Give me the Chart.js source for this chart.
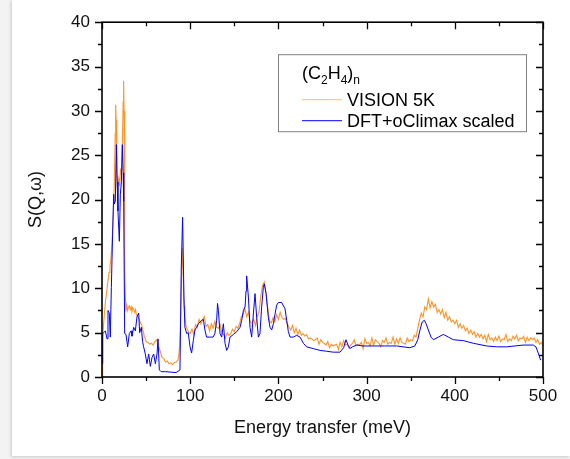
<!DOCTYPE html>
<html><head><meta charset="utf-8">
<script src="https://cdn.jsdelivr.net/npm/chart.js@4.4.0/dist/chart.umd.min.js"></script>
<style>
html,body{margin:0;padding:0;background:#f3f3f3;width:570px;height:459px;overflow:hidden;}
#card{position:absolute;left:12px;top:0;width:558px;height:456px;background:#fff;box-shadow:-1px 1px 3px rgba(0,0,0,0.18);}
#c{position:absolute;left:0;top:0;}
</style></head><body>
<div id="card"></div>
<canvas id="c" width="570" height="459"></canvas>
<script>
// ---- data ----
const visionE = [
0,0.5,1,2,3,4,5,6,7,8,
9,10,11,12,13,14,15,15.5,16,16.5,
17,18,19,20,21,22,23,24,24.5,25,
25.5,26,27,28,29,30,31,32,33,34,
35,36,37,38,39,40,41,42,43,44,
45,46,47,48,49,50,52,54,56,58,
60,62,64,66,68,70,72,74,76,78,
80,82,84,86,87,88,89,90,91,92,
93,94,95,96,98,100,102,104,106,108,
110,112,114,116,118,120,122,124,126,128,
130,132,134,136,138,140,142,144,146,148,
150,152,154,156,158,160,162,164,166,168,
170,172,174,176,178,180,182,184,186,188,
190,192,194,196,198,200,202,204,206,208,
210,212,214,216,218,220,222,224,226,228,
230,232,234,236,238,240,242,244,246,248,
250,252,254,256,258,260,262,264,266,268,
270,272,274,276,278,280,282,284,286,288,
290,292,294,296,298,300,302,304,306,308,
310,312,314,316,318,320,322,324,326,328,
330,332,334,336,338,340,342,344,346,348,
350,352,354,356,358,360,362,364,366,368,
370,372,374,376,378,380,382,384,386,388,
390,392,394,396,398,400,402,404,406,408,
410,412,414,416,418,420,422,424,426,428,
430,432,434,436,438,440,442,444,446,448,
450,452,454,456,458,460,462,464,466,468,
470,472,474,476,478,480,482,484,486,488,
490,492,494,496,498,500];
const visionS = [
0,2.5,4.5,6.2,7.5,8.6,9.3,10.2,11.0,11.8,
12.4,13.2,14.5,16.5,18.8,22.0,27.5,30.7,29.0,25.5,
22.8,21.7,22.4,21.5,23.5,22.8,26.0,31.0,33.4,30.0,
22.0,12.0,7.4,8.1,7.5,7.9,8.0,7.6,7.9,7.4,
7.8,7.6,7.3,7.6,7.0,6.9,6.7,6.5,6.5,6.0,
5.9,5.3,5.1,4.5,4.4,4.0,3.9,3.7,3.8,3.6,
4.0,4.2,3.5,2.9,2.2,2.1,1.7,1.8,1.5,1.6,
1.4,1.6,1.7,1.9,2.4,3.5,6.0,10.5,14.5,12.0,
8.0,6.8,5.9,5.5,5.1,4.9,5.4,4.8,5.9,5.6,
6.5,6.0,6.4,6.8,5.7,5.9,5.2,6.0,5.5,6.3,
5.6,5.5,5.9,4.9,4.8,4.4,5.0,4.7,4.9,5.4,
5.1,5.7,5.5,6.0,6.8,7.0,7.7,6.8,7.3,6.2,
6.1,6.5,5.8,6.8,7.3,9.1,10.3,10.7,9.5,7.7,
6.3,6.1,6.7,6.2,7.0,6.5,7.3,6.7,6.5,6.6,
6.0,5.6,5.3,5.8,5.0,5.5,4.8,5.3,4.7,4.9,
4.6,4.8,4.3,4.4,4.3,4.1,4.2,4.4,3.7,4.2,
3.9,3.8,3.6,4.0,3.3,3.7,3.5,3.6,3.7,3.1,
3.9,3.4,4.1,3.6,3.7,3.3,3.6,3.8,4.2,3.5,
3.7,3.6,3.9,3.2,4.3,3.8,3.9,3.5,4.4,3.6,
4.2,4.0,3.8,3.4,4.1,3.9,4.4,3.7,3.9,3.8,
4.5,3.7,4.3,3.8,4.4,3.9,3.8,3.7,4.4,4.0,
4.2,4.1,4.7,4.5,5.5,6.4,7.2,6.8,7.9,7.6,
8.8,7.8,8.5,7.9,8.2,7.3,7.6,7.1,7.6,6.7,
7.3,6.4,6.8,6.2,6.4,6.0,6.4,5.6,6.0,5.5,
5.8,5.2,5.5,4.9,5.3,4.8,5.1,4.5,4.9,4.5,
4.8,4.3,4.7,4.0,4.8,4.2,4.4,4.0,4.5,4.1,
4.6,4.0,4.3,4.2,4.8,4.0,4.3,4.1,4.6,4.3,
4.7,4.1,4.4,4.3,4.6,3.9,4.5,4.1,4.4,4.2,
4.4,3.9,4.2,3.7,3.9,3.5];
const dftE = [
0,0.8,2,3.8,5.7,6.8,8.3,9.4,10.6,12,
13.2,14,15.1,16.3,17.2,18.1,19.65,20.8,22,23.05,
24,24.6,25.7,27.2,29.1,31,32.9,34,35.9,37.8,
39.7,41.6,42.7,44.6,46,47.2,49.1,51,52.9,54.8,
56.7,58.6,60.5,62.4,63.5,65,67,72,78,84,
88.4,89.9,91.4,92.9,94,96,97.8,99.8,101.6,103.5,
105.4,107.3,109.2,113,114.9,116.7,118.6,122,126,128,
130,131,132,133.8,135.7,137.6,139.5,141.4,143.3,145.1,
149,152.7,156.5,158.4,160.3,162.2,163.3,164,166,167.8,
169.7,171.6,173.5,175.4,177.3,179.1,181,182.9,184,186,
188.6,190.5,192.4,194.3,196.2,198,200,203.7,207.5,209.4,
211.3,213.2,217,220.7,224.5,228.3,232,239.6,247.2,254.7,
262.3,269.8,274,276.6,279,281,284,288.6,296,307.4,
320,334,349,354.7,358,360.5,363,365.4,367.5,370,
373,375.7,381.3,387,392.7,398.4,409.7,421,436,447.4,
458.8,477.6,489,492,494.6,497.3];
const dftS = [
1.5,4.9,5.0,5.2,4.3,7.5,7.2,4.5,10.1,16,
20.6,19.5,19.8,26.2,22,18.7,15.3,20.6,22,26.2,
23,19.8,4.9,4.8,3.4,4.9,5.2,4.6,5.6,5.2,
6.8,7.2,5.0,5.6,4.0,3.4,2.6,1.5,2.6,1.2,
2.2,2.6,1.5,2.6,4.3,0.8,0.6,0.6,0.55,0.5,
0.8,12.4,18,9,5.6,4.9,5.0,3.4,2.7,4.1,
5.3,5.6,6.0,6.4,6.5,5.3,4.5,4.5,4.5,4.9,
6.4,8.3,7.5,4.9,4.5,6.0,3.8,3.0,3.4,4.5,
4.8,5.1,5.6,6.4,7.5,7.9,9.7,11.4,9.0,5.6,
4.5,7.1,9.4,6.7,4.5,4.9,7.9,10.1,10.5,9.4,
6.7,5.6,5.3,6.0,7.1,8.1,8.4,8.4,7.7,6.4,
5.1,4.5,4.5,4.7,4.5,3.8,3.4,3.2,3.0,2.9,
2.8,2.8,3.3,4.2,3.6,3.2,3.4,3.6,3.5,3.5,
3.5,3.5,3.3,3.5,4.2,5.3,6.2,6.4,6.0,5.3,
4.5,4.2,4.5,4.8,4.5,4.2,4.1,3.8,3.5,3.4,
3.4,3.6,3.6,3.4,2.7,1.9];
const xMajorTicks = [0,100,200,300,400,500];
const xMinorTicks = [50,150,250,350,450];
const yMajorTicks = [0,5,10,15,20,25,30,35,40];
const yMinorTicks = [2.5,7.5,12.5,17.5,22.5,27.5,32.5,37.5];
const seriesNames = ['VISION 5K','DFT+oClimax scaled'];
const xTitle = 'Energy transfer (meV)';
const yTitle = 'S(Q,\u03C9)';

// ---- rendering ----
const FONT = '"Liberation Sans", Arial, sans-serif';
const ORANGE = 'rgba(255,128,0,0.85)';
const BLUE = '#0000ff';
const toPts = (xs, ys) => xs.map((v, i) => ({x: v, y: ys[i]}));

const framePlugin = {
  id: 'frame',
  afterDatasetsDraw(chart) {
    const {ctx, chartArea: ca, scales: {x, y}} = chart;
    ctx.save();
    ctx.strokeStyle = '#000';
    ctx.lineWidth = 1.6;
    ctx.strokeRect(ca.left, ca.top, ca.right - ca.left, ca.bottom - ca.top);
    ctx.lineWidth = 1.3;
    ctx.beginPath();
    const xt = (list, len) => list.forEach(v => {
      const p = Math.round(x.getPixelForValue(v)) + 0.5;
      ctx.moveTo(p, ca.bottom); ctx.lineTo(p, ca.bottom + len);
      ctx.moveTo(p, ca.top); ctx.lineTo(p, ca.top + len);
    });
    const yt = (list, len) => list.forEach(v => {
      const p = Math.round(y.getPixelForValue(v)) + 0.5;
      ctx.moveTo(ca.left, p); ctx.lineTo(ca.left - len, p);
      ctx.moveTo(ca.right, p); ctx.lineTo(ca.right - len, p);
    });
    xt(xMajorTicks, 7); xt(xMinorTicks, 4);
    yt(yMajorTicks, 7); yt(yMinorTicks, 4);
    ctx.stroke();

    // legend
    const lx = ca.left + 176, ly = ca.top + 32;
    ctx.lineWidth = 1;
    ctx.strokeStyle = '#808080';
    ctx.strokeRect(lx + 0.5, ly + 0.5, 248, 77);
    ctx.fillStyle = '#000';
    ctx.textBaseline = 'alphabetic';
    ctx.textAlign = 'left';
    let tx = lx + 24;
    const base = ly + 25;
    [['(C', 0], ['2', 1], ['H', 0], ['4', 1], [')', 0], ['n', 1]].forEach(([t, sub]) => {
      ctx.font = (sub ? '12px ' : '18px ') + FONT;
      ctx.fillText(t, tx, sub ? base + 5 : base);
      tx += ctx.measureText(t).width;
    });
    ctx.font = '18px ' + FONT;
    ctx.lineWidth = 1;
    ctx.strokeStyle = 'rgba(255,128,0,0.55)';
    ctx.beginPath(); ctx.moveTo(lx + 24, ly + 45.5); ctx.lineTo(lx + 64, ly + 45.5); ctx.stroke();
    ctx.fillText(seriesNames[0], lx + 69, ly + 52);
    ctx.strokeStyle = BLUE;
    ctx.beginPath(); ctx.moveTo(lx + 24, ly + 66.5); ctx.lineTo(lx + 64, ly + 66.5); ctx.stroke();
    ctx.fillText(seriesNames[1], lx + 69, ly + 73);
    ctx.restore();
  }
};

new Chart(document.getElementById('c'), {
  type: 'line',
  data: {
    datasets: [
      {label: seriesNames[1], data: toPts(dftE, dftS), borderColor: BLUE, borderWidth: 1, pointRadius: 0, tension: 0, fill: false},
      {label: seriesNames[0], data: toPts(visionE, visionS), borderColor: ORANGE, borderWidth: 1.1, pointRadius: 0, tension: 0, fill: false}
    ]
  },
  options: {
    responsive: false,
    animation: false,
    events: [],
    layout: {padding: {left: 0, top: 20, right: 27, bottom: 0}},
    plugins: {legend: {display: false}, tooltip: {enabled: false}},
    scales: {
      x: {
        type: 'linear', min: 0, max: 500,
        afterBuildTicks: s => { s.ticks = xMajorTicks.map(v => ({value: v})); },
        afterFit: s => { s.height = 82; },
        grid: {display: false, drawTicks: false},
        border: {display: false},
        ticks: {padding: 9, color: '#111', font: {family: FONT, size: 17}, maxRotation: 0, autoSkip: false},
        title: {display: true, text: xTitle, color: '#111', font: {family: FONT, size: 18}, padding: {top: 0, bottom: 20}}
      },
      y: {
        type: 'linear', min: 0, max: 40,
        afterBuildTicks: s => { s.ticks = yMajorTicks.map(v => ({value: v})); },
        afterFit: s => { s.width = 102; },
        grid: {display: false, drawTicks: false},
        border: {display: false},
        ticks: {padding: 12, color: '#111', font: {family: FONT, size: 17}, autoSkip: false},
        title: {display: true, text: yTitle, color: '#111', font: {family: FONT, size: 18}, padding: {top: 25, bottom: 0}}
      }
    }
  },
  plugins: [framePlugin]
});
</script>
</body></html>
